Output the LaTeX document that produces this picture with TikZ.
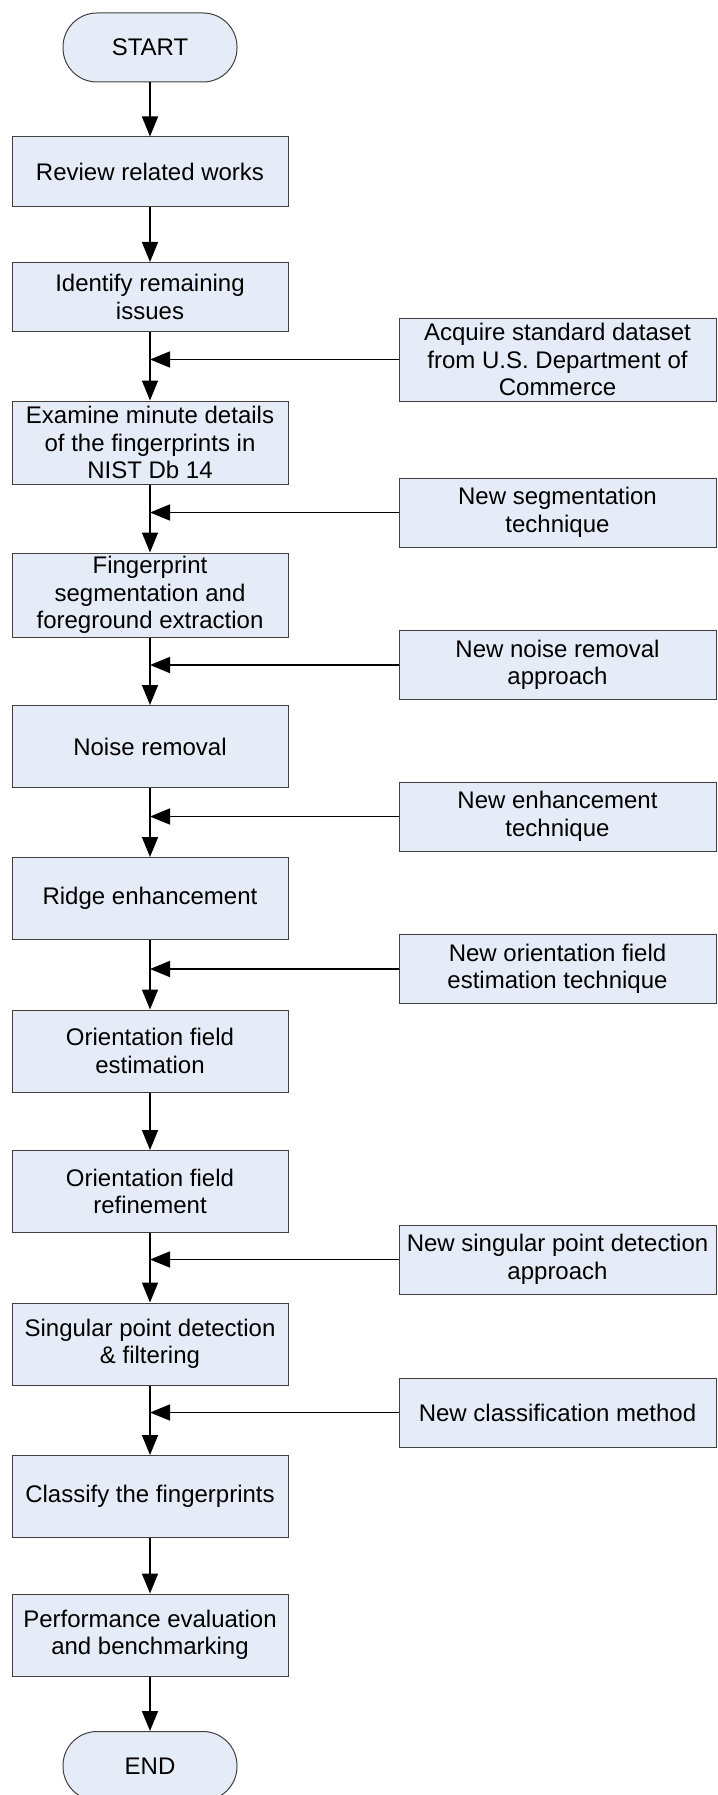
\documentclass[tikz,border=0pt]{standalone}
\usepackage{fontspec}
\setmainfont{Liberation Sans}
\usetikzlibrary{arrows.meta}
\definecolor{boxfill}{RGB}{230,236,247}
\definecolor{boxline}{RGB}{64,64,64}
\newcommand\feed[2]{\draw[flow](#1.west)--(#1.west-|#2.south);}

\begin{document}
\begin{tikzpicture}[x=1pt,y=-1pt,font=\fontsize{24}{27.5}\selectfont,flow/.style={draw,line width=1.6pt,-{Triangle[length=20pt,width=16pt]}}]
% Three node styles: terminal, process and input
\tikzstyle{terminal node}=[draw=boxline,fill=boxfill,line width=1pt,rounded corners=34pt,minimum width=174pt,minimum height=69pt];
\tikzstyle{process node}=[draw=boxline,fill=boxfill,line width=1pt,align=center,minimum width=276pt,minimum height=82pt,inner sep=2pt];
\tikzstyle{input node}=[process node,minimum width=317pt,minimum height=69pt];
\useasboundingbox(0,0)rectangle(717,1795);
% The main column
\node(start)[terminal node]at(150,47.5){START};
\node(review)[process node,minimum height=70pt]at(150,172){Review related works};
\node(identify)[process node,minimum height=69pt]at(150,297){Identify remaining\\issues};
\node(examine)[process node,minimum height=83pt]at(150,442.5){Examine minute details\\of the fingerprints in\\NIST Db 14};
\node(segment)[process node,minimum height=84pt]at(150,595){Fingerprint\\segmentation and\\foreground extraction};
\node(noise)[process node]at(150,746.5){Noise removal};
\node(ridge)[process node]at(150,898.5){Ridge enhancement};
\node(estimate)[process node]at(150,1051){Orientation field\\estimation};
\node(refine)[process node]at(150,1191.5){Orientation field\\refinement};
\node(singular)[process node]at(150,1344){Singular point detection\\\& filtering};
\node(classify)[process node]at(150,1496.5){Classify the fingerprints};
\node(evaluate)[process node]at(150,1635){Performance evaluation\\and benchmarking};
\node(end)[terminal node]at(150,1766){END};
% The inputs on the right
\node(dataset)[input node,minimum height=83pt]at(557.5,359.5){Acquire standard dataset\\from U.S. Department of\\Commerce};
\node(newseg)[input node]at(557.5,512.5){New segmentation\\technique};
\node(newnoise)[input node]at(557.5,665){New noise removal\\approach};
\node(newenh)[input node]at(557.5,816.5){New enhancement\\technique};
\node(neworient)[input node]at(557.5,969){New orientation field\\estimation technique};
\node(newsing)[input node]at(557.5,1259.5){New singular point detection\\approach};
\node(newclass)[input node]at(557.5,1412.5){New classification method};
% Arrows
\foreach \a/\b in {start/review,review/identify,identify/examine,examine/segment,segment/noise,noise/ridge,ridge/estimate,estimate/refine,refine/singular,singular/classify,classify/evaluate,evaluate/end}
\draw[flow](\a.south)--(\b.north);
\feed{dataset}{identify}
\feed{newseg}{examine}
\feed{newnoise}{segment}
\feed{newenh}{noise}
\feed{neworient}{ridge}
\feed{newsing}{refine}
\feed{newclass}{singular}
\end{tikzpicture}
\end{document}
